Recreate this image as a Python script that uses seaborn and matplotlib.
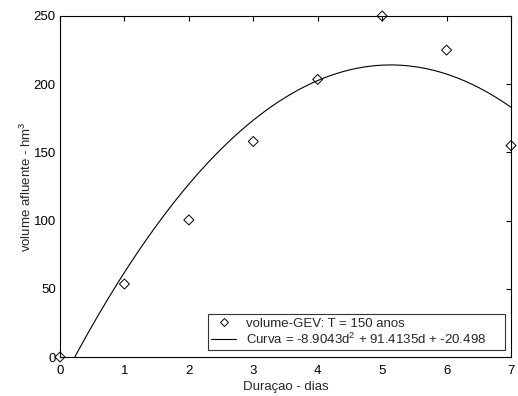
import numpy as np
import pandas as pd
import matplotlib
matplotlib.use("Agg")
import matplotlib.pyplot as plt
from matplotlib.lines import Line2D
import seaborn as sns

# Observed GEV volumes by duration
duracao = [0, 1, 2, 3, 4, 5, 6, 7]
volume = [0, 53.5, 100.5, 158, 203.5, 250, 225, 155]

# Fitted quadratic coefficients (a*d^2 + b*d + c)
coef_a = -8.9043
coef_b = 91.4135
coef_c = -20.498

xticks = [0, 1, 2, 3, 4, 5, 6, 7]
yticks = [0, 50, 100, 150, 200, 250]

sns.set_style("white")
plt.rcParams["font.family"] = ["Liberation Sans", "DejaVu Sans"]
plt.rcParams["font.size"] = 9.5
plt.rcParams["mathtext.fontset"] = "custom"
plt.rcParams["mathtext.rm"] = "Liberation Sans"

fig = plt.figure(figsize=(5.18, 3.96), dpi=100, facecolor="white")
ax = fig.add_axes([60 / 518, 1 - 357 / 396, 451 / 518, 341 / 396])
ax.set_facecolor("white")

d_fine = np.linspace(0, 7, 141)
curve = pd.DataFrame({"d": d_fine, "v": coef_a * d_fine**2 + coef_b * d_fine + coef_c})
obs = pd.DataFrame({"d": duracao, "v": volume})

sns.lineplot(data=curve, x="d", y="v", ax=ax, color="black", linewidth=0.8, legend=False)
sns.scatterplot(data=obs, x="d", y="v", ax=ax, marker="D", s=26, facecolor="none",
                edgecolor="black", linewidth=0.7, legend=False, clip_on=False, zorder=3)

ax.set_xlim(0, 7)
ax.set_ylim(0, 250)
ax.set_xticks(xticks)
ax.set_yticks(yticks)
ax.tick_params(direction="in", length=3.5, width=0.8, top=True, right=True,
               labelsize=9.5, colors="black")
ax.tick_params(axis="x", pad=5.5)
ax.tick_params(axis="y", pad=3)
for s in ax.spines.values():
    s.set_color("black")
    s.set_linewidth(0.8)

ax.set_xlabel("Duraçao - dias", fontsize=9.5, labelpad=3)
ax.set_ylabel("volume afluente - hm$^3$", fontsize=9.5, labelpad=0)

handles = [
    Line2D([], [], linestyle="none", marker="D", markersize=4.5, markerfacecolor="none",
           markeredgecolor="black", markeredgewidth=0.7),
    Line2D([], [], color="black", linewidth=0.8),
]
labels = [
    "volume-GEV: T = 150 anos",
    f"Curva = {coef_a}d$^2$ + {coef_b}d + {coef_c}",
]
leg = ax.legend(handles, labels, loc="lower left",
                bbox_to_anchor=(0.328, 0.0205, 0.6585, 0.117),
                mode="expand", fontsize=9.5, frameon=True, fancybox=False, borderpad=0.25,
                handlelength=1.9, handletextpad=0.7, labelspacing=0.15, borderaxespad=0)
leg.get_frame().set_edgecolor("black")
leg.get_frame().set_linewidth(0.8)

fig.savefig("out.png", dpi=100, facecolor="white")
